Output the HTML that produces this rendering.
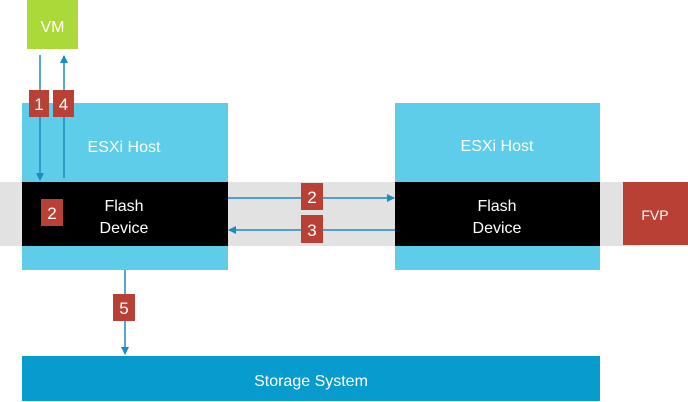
<!DOCTYPE html>
<html><head><meta charset="utf-8"><style>
html,body{margin:0;padding:0;background:#fff;}
svg{display:block;}
text{font-family:"Liberation Sans",sans-serif;fill:#fff;}
</style></head><body>
<svg width="688" height="402" viewBox="0 0 688 402" xmlns="http://www.w3.org/2000/svg">
<defs>
<marker id="a" markerWidth="8" markerHeight="8" refX="7" refY="4" orient="auto" markerUnits="userSpaceOnUse">
<path d="M0,0 L8,4 L0,8 z" fill="#1a8cc0"/></marker>
</defs>
<rect x="27" y="0" width="51" height="49" fill="#acd93a"/>
<text x="52.5" y="32" font-size="16" text-anchor="middle">VM</text>
<rect x="22" y="103" width="206" height="167" fill="#5ecde9"/>
<rect x="395" y="103" width="205" height="167" fill="#5ecde9"/>
<rect x="0" y="182" width="640" height="64" fill="#e2e2e2"/>
<rect x="22" y="182" width="206" height="64" fill="#000"/>
<rect x="395" y="182" width="205" height="64" fill="#000"/>
<rect x="623" y="182" width="65" height="63" fill="#b94034"/>
<text x="655" y="220" font-size="14" text-anchor="middle">FVP</text>
<text x="124" y="152" font-size="16" text-anchor="middle">ESXi Host</text>
<text x="497" y="151" font-size="16" text-anchor="middle">ESXi Host</text>
<text x="124" y="211" font-size="16" text-anchor="middle">Flash</text>
<text x="124" y="233" font-size="16" text-anchor="middle">Device</text>
<text x="497" y="211" font-size="16" text-anchor="middle">Flash</text>
<text x="497" y="233" font-size="16" text-anchor="middle">Device</text>
<rect x="22" y="356" width="578" height="45" fill="#089bcd"/>
<text x="311" y="386" font-size="16" text-anchor="middle">Storage System</text>
<g stroke="#1a8cc0" stroke-width="1.5" fill="none">
<line x1="40" y1="55" x2="40" y2="180" marker-end="url(#a)"/>
<line x1="64" y1="178" x2="64" y2="56" marker-end="url(#a)"/>
<line x1="228" y1="198" x2="394" y2="198" marker-end="url(#a)"/>
<line x1="395" y1="230" x2="229" y2="230" marker-end="url(#a)"/>
<line x1="125" y1="270" x2="125" y2="354" marker-end="url(#a)"/>
</g>
<g fill="#b94034">
<rect x="29" y="90" width="20" height="27"/>
<rect x="53" y="90" width="21" height="27"/>
<rect x="41" y="199" width="22" height="27"/>
<rect x="301" y="183" width="22" height="27"/>
<rect x="301" y="215" width="22" height="28"/>
<rect x="113" y="294" width="22" height="27"/>
</g>
<g font-size="17" text-anchor="middle">
<text x="39" y="110">1</text>
<text x="63.5" y="110">4</text>
<text x="52" y="219">2</text>
<text x="312" y="203">2</text>
<text x="312" y="236">3</text>
<text x="124" y="314">5</text>
</g>
</svg>
</body></html>
